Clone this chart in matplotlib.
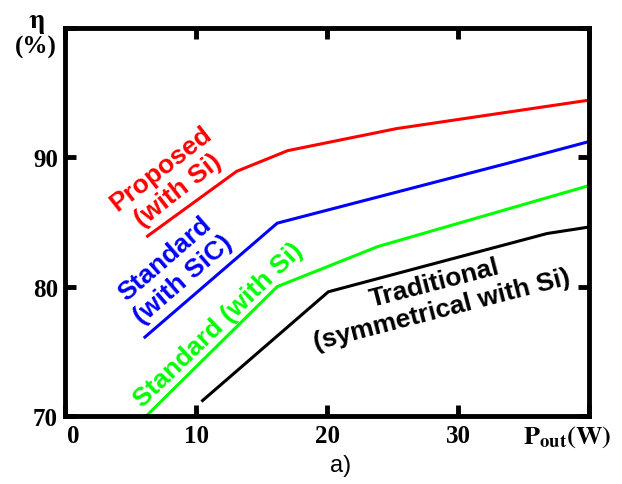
import matplotlib.pyplot as plt
from matplotlib.transforms import ScaledTranslation

# efficiency curves, P_out in W, eta in %
p_proposed = [6.3, 13.1, 17.0, 25.3, 40.0]
eta_proposed = [83.9, 88.9, 90.5, 92.2, 94.4]

p_std_sic = [6.1, 16.2, 33.7, 40.0]
eta_std_sic = [76.1, 84.9, 89.5, 91.2]

p_std_si = [6.2, 16.2, 23.9, 40.0]
eta_std_si = [70.0, 80.0, 83.1, 87.8]

p_trad = [10.5, 20.1, 36.8, 40.0]
eta_trad = [71.2, 79.6, 84.1, 84.6]

x_ticks = [0, 10, 20, 30, 40]
x_ticklabels = ['0', '10', '20', '30', '']
y_ticks = [70, 80, 90, 100]
y_ticklabels = ['70', '80', '90', '']

plt.rcParams['mathtext.fontset'] = 'stix'

fig = plt.figure(figsize=(6.22, 4.85), dpi=100)
ax = fig.add_axes([0.1045, 0.140, 0.8425, 0.801])

ax.plot(p_proposed, eta_proposed, color='#ff0000', lw=2.2)
ax.plot(p_std_sic, eta_std_sic, color='#0000ff', lw=2.2)
ax.plot(p_std_si, eta_std_si, color='#00ff00', lw=2.2)
ax.plot(p_trad, eta_trad, color='black', lw=2.2)

ax.set_xlim(0, 40)
ax.set_ylim(70, 100)

serif = dict(family='Liberation Serif', weight='bold', size=18)
ax.set_xticks(x_ticks)
ax.set_xticklabels(x_ticklabels, fontdict=serif)
ax.set_yticks(y_ticks)
ax.set_yticklabels(y_ticklabels, fontdict=serif)
ax.tick_params(direction='in', length=8, width=3.5, top=True, right=True)
ax.tick_params(axis='x', pad=6)
ax.tick_params(axis='y', pad=5)
for s in ax.spines.values():
    s.set_linewidth(3.5)

# nudge the "0" off the corner
lbl0 = ax.get_xticklabels()[0]
lbl0.set_transform(lbl0.get_transform() + ScaledTranslation(0.08, 0, fig.dpi_scale_trans))

# curve labels
sans = dict(family='Liberation Sans', weight='bold', size=19, ha='center', va='center',
            multialignment='center', linespacing=1.2)
ax.text(8.0, 88.3, 'Proposed\n(with Si)', color='#ff0000', rotation=38, **sans)
ax.text(8.3, 81.4, 'Standard\n(with SiC)', color='#0000ff', rotation=41, **sans)
ax.text(11.7, 77.1, 'Standard (with Si)', color='#00ff00', rotation=44, **sans)
ax.text(28.5, 79.3, 'Traditional\n(symmetrical with Si)', color='black', rotation=14.5, **sans)

# axis captions placed where the last tick labels would sit
fig.text(0.058, 0.955, r'$\mathbf{\eta}$', ha='center', va='center', fontsize=20)
fig.text(0.058, 0.903, '(%)', ha='center', va='center', **serif)
fig.text(0.912, 0.098, r'$\mathbf{P_{out}(W)}$', ha='center', va='center', fontsize=19)
fig.text(0.547, 0.039, 'a)', ha='center', va='center', family='Liberation Sans', size=17)

fig.savefig('out.png')
